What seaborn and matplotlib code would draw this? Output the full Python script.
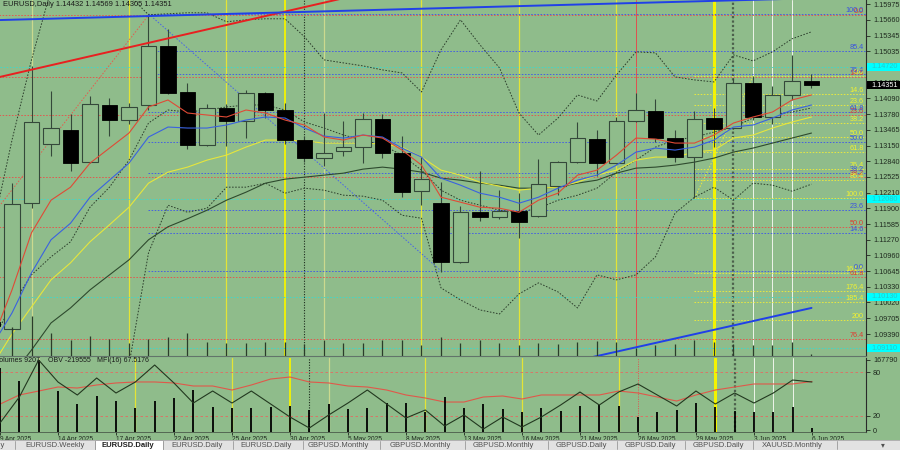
import matplotlib
matplotlib.use("Agg")
import matplotlib.pyplot as plt
import seaborn as sns
import numpy as np
from matplotlib.patches import Rectangle

sns.set_theme(style="white")
plt.rcParams["font.family"] = ["Liberation Sans", "DejaVu Sans"]

# ---------------- data ----------------
dates = ["9 Apr", "10 Apr", "11 Apr", "14 Apr", "15 Apr", "16 Apr", "17 Apr", "18 Apr",
         "21 Apr", "22 Apr", "23 Apr", "24 Apr", "25 Apr", "28 Apr", "29 Apr", "30 Apr",
         "1 May", "2 May", "5 May", "6 May", "7 May", "8 May", "9 May",
         "12 May", "13 May", "14 May", "15 May", "16 May",
         "19 May", "20 May", "21 May", "22 May", "23 May",
         "26 May", "27 May", "28 May", "29 May", "30 May",
         "2 Jun", "3 Jun", "4 Jun", "5 Jun", "6 Jun"]
opens = [1.0962, 1.0949, 1.1200, 1.1318, 1.1346, 1.1282, 1.1396, 1.1366, 1.1396, 1.1514,
         1.1422, 1.1316, 1.1390, 1.1364, 1.1420, 1.1386, 1.1326, 1.1290, 1.1304, 1.1312,
         1.1368, 1.1300, 1.1224, 1.1200, 1.1083, 1.1182, 1.1172, 1.1184, 1.1174, 1.1234,
         1.1282, 1.1328, 1.1280, 1.1364, 1.1384, 1.1330, 1.1292, 1.1370, 1.1350, 1.1440,
         1.1372, 1.1416, 1.14432]
highs = [1.1050, 1.1240, 1.1474, 1.1424, 1.1378, 1.1414, 1.1410, 1.1400, 1.1574, 1.1548,
         1.1440, 1.1398, 1.1398, 1.1426, 1.1422, 1.1400, 1.1334, 1.1380, 1.1364, 1.1380,
         1.1378, 1.1334, 1.1292, 1.1242, 1.1194, 1.1264, 1.1226, 1.1220, 1.1288, 1.1284,
         1.1362, 1.1346, 1.1372, 1.1420, 1.1408, 1.1346, 1.1384, 1.1390, 1.1450, 1.1454,
         1.1434, 1.1496, 1.14569]
lows = [1.0890, 1.0937, 1.1190, 1.1294, 1.1264, 1.1280, 1.1334, 1.1358, 1.1386, 1.1418,
        1.1308, 1.1314, 1.1314, 1.1330, 1.1370, 1.1318, 1.1282, 1.1274, 1.1294, 1.1280,
        1.1290, 1.1212, 1.1196, 1.1063, 1.1081, 1.1164, 1.1168, 1.1130, 1.1172, 1.1216,
        1.1280, 1.1254, 1.1278, 1.1362, 1.1322, 1.1282, 1.1210, 1.1312, 1.1348, 1.1366,
        1.1358, 1.1406, 1.14305]
closes = [1.0955, 1.1198, 1.1362, 1.1350, 1.1280, 1.1398, 1.1366, 1.1392, 1.1514, 1.1420,
          1.1316, 1.1390, 1.1364, 1.1420, 1.1386, 1.1326, 1.1290, 1.1300, 1.1312, 1.1368,
          1.1300, 1.1222, 1.1248, 1.1083, 1.1182, 1.1172, 1.1184, 1.1162, 1.1238, 1.1282,
          1.1330, 1.1280, 1.1364, 1.1386, 1.1330, 1.1292, 1.1368, 1.1348, 1.1440, 1.1372,
          1.1416, 1.1444, 1.14351]

ma_red = [1.0927, 1.1027, 1.1141, 1.1206, 1.1232, 1.1280, 1.1310, 1.1340, 1.1392, 1.1406,
          1.1380, 1.1376, 1.1372, 1.1386, 1.1380, 1.1366, 1.1356, 1.1332, 1.1326, 1.1336,
          1.1330, 1.1306, 1.1276, 1.1212, 1.1202, 1.1192, 1.1190, 1.1182, 1.1206, 1.1220,
          1.1256, 1.1266, 1.1296, 1.1330, 1.1328, 1.1320, 1.1320, 1.1336, 1.1360, 1.1372,
          1.1382, 1.1406, 1.1416]
ma_blue = [1.0917, 1.0981, 1.1061, 1.1127, 1.1160, 1.1212, 1.1246, 1.1280, 1.1332, 1.1352,
           1.1350, 1.1350, 1.1356, 1.1366, 1.1372, 1.1370, 1.1350, 1.1334, 1.1330, 1.1336,
           1.1332, 1.1310, 1.1292, 1.1250, 1.1236, 1.1220, 1.1212, 1.1200, 1.1212, 1.1230,
           1.1246, 1.1256, 1.1276, 1.1302, 1.1310, 1.1306, 1.1312, 1.1326, 1.1352, 1.1356,
           1.1370, 1.1386, 1.1396]
ma_yellow = [1.0877, 1.0939, 1.0993, 1.1047, 1.1081, 1.1123, 1.1157, 1.1192, 1.1240, 1.1262,
             1.1272, 1.1286, 1.1296, 1.1312, 1.1326, 1.1326, 1.1324, 1.1320, 1.1320, 1.1320,
             1.1318, 1.1312, 1.1292, 1.1266, 1.1256, 1.1242, 1.1234, 1.1226, 1.1230, 1.1232,
             1.1242, 1.1256, 1.1266, 1.1286, 1.1292, 1.1292, 1.1302, 1.1306, 1.1330, 1.1336,
             1.1350, 1.1362, 1.1372]
ma_slow = [1.0807, 1.0857, 1.0907, 1.0961, 1.0991, 1.1027, 1.1057, 1.1087, 1.1127, 1.1153,
           1.1169, 1.1186, 1.1206, 1.1222, 1.1240, 1.1248, 1.1252, 1.1256, 1.1260, 1.1268,
           1.1272, 1.1268, 1.1262, 1.1250, 1.1246, 1.1240, 1.1236, 1.1230, 1.1230, 1.1232,
           1.1240, 1.1246, 1.1260, 1.1270, 1.1272, 1.1276, 1.1282, 1.1290, 1.1302, 1.1310,
           1.1320, 1.1330, 1.1340]
band_upper = [1.1146, 1.1326, 1.1486, 1.1626, 1.1685, 1.1705, 1.1695, 1.1615, 1.1576, 1.1578,
              1.1580, 1.1580, 1.1562, 1.1566, 1.1568, 1.1568, 1.1532, 1.1486, 1.1480, 1.1474,
              1.1466, 1.1460, 1.1422, 1.1506, 1.1566, 1.1516, 1.1470, 1.1380, 1.1336, 1.1370,
              1.1416, 1.1404, 1.1456, 1.1502, 1.1500, 1.1452, 1.1446, 1.1442, 1.1496, 1.1484,
              1.1502, 1.1528, 1.1542]
band_lower = [1.0408, 1.0488, 1.0568, 1.0648, 1.0708, 1.0768, 1.0807, 1.0877, 1.1101, 1.1196,
              1.1182, 1.1190, 1.1232, 1.1232, 1.1240, 1.1220, 1.1230, 1.1226, 1.1216, 1.1214,
              1.1206, 1.1176, 1.1170, 1.1031, 1.1007, 1.0987, 1.0979, 1.1019, 1.1041, 1.1023,
              1.0991, 1.1057, 1.1047, 1.1057, 1.1093, 1.1180, 1.1212, 1.1232, 1.1206, 1.1240,
              1.1236, 1.1224, 1.1238]
band_mid = [1.0927, 1.0997, 1.1057, 1.1093, 1.1123, 1.1192, 1.1232, 1.1286, 1.1360, 1.1386,
            1.1382, 1.1386, 1.1392, 1.1396, 1.1396, 1.1386, 1.1362, 1.1350, 1.1336, 1.1326,
            1.1316, 1.1296, 1.1266, 1.1226, 1.1206, 1.1196, 1.1186, 1.1182, 1.1190, 1.1206,
            1.1216, 1.1230, 1.1262, 1.1286, 1.1312, 1.1326, 1.1332, 1.1342, 1.1352, 1.1370,
            1.1376, 1.1382, 1.1390]

volumes = [150000, 119600, 167790, 95500, 65300, 83900, 72200, 55900, 72200, 79200,
           97900, 58300, 55900, 55900, 58300, 60600, 51300, 65300, 53600, 55900,
           67600, 67600, 46600, 81600, 55900, 65300, 53600, 46600, 55900, 48900,
           60600, 62900, 60600, 35000, 46600, 51300, 67600, 58300, 48900, 46600,
           46600, 58300, 9207]
obv = [-404100, -287100, -120600, -219600, -278100, -201600, -269100, -219600, -143100, -224100,
       -314100, -260100, -314100, -260100, -318600, -377100, -426600, -368100, -314100, -255600,
       -318600, -381600, -345600, -417600, -368100, -431100, -377100, -422100, -377100, -323100,
       -264600, -323100, -264600, -228600, -278100, -327600, -260100, -318600, -269100, -314100,
       -269100, -210600, -219555]
mfi = [36.0, 48.7, 54.2, 59.8, 58.4, 62.6, 65.4, 66.8, 66.8, 65.4, 61.2, 61.2, 55.6, 62.6,
       70.9, 73.7, 66.8, 65.4, 61.2, 59.8, 55.6, 48.7, 44.5, 38.9, 38.9, 45.9, 47.3, 43.1,
       48.7, 48.7, 48.7, 48.7, 54.2, 51.5, 45.9, 40.3, 48.7, 55.6, 59.8, 64.0, 64.0, 64.0,
       67.5176]
vol_scale_max = 167790

price_ticks = [1.15975, 1.15660, 1.15345, 1.15035, 1.14720, 1.14405, 1.14090, 1.13780,
               1.13465, 1.13150, 1.12840, 1.12525, 1.12210, 1.11900, 1.11585, 1.11270,
               1.10960, 1.10645, 1.10330, 1.10020, 1.09705, 1.09390]
mfi_ticks = [80, 20, 0]

# Fibonacci objects (anchors)
blue_fib_levels = [0.0, 14.6, 23.6, 38.2, 50.0, 61.8, 76.4, 85.4, 100.0]
blue_fib_low, blue_fib_high, blue_fib_start = 1.1065, 1.1578, 8
red_fib_levels = [0.0, 14.6, 23.6, 38.2, 50.0, 61.8, 76.4, 100.0]
red_fib_top, red_fib_bottom, red_fib_start = 1.1575, 1.0729, -9
yel_fib_levels = [0.0, 14.6, 23.6, 38.2, 50.0, 61.8, 76.4, 85.4, 100.0, 161.8, 176.4, 185.4, 200.0]
yel_fib_top, yel_fib_bottom, yel_fib_start = 1.1453, 1.1210, 36
pivot_levels = [1.1472, 1.1208, 1.1013, 1.0911]

# trend lines: (index, price) pairs
red_trend = [(-5, 1.1404), (20, 1.1627)]
blue_trend_top = [(-2, 1.1563), (42, 1.1609)]
blue_trend_low = [(20, 1.0799), (42, 1.0991)]
red_fib_diag = [(-9, 1.0729), (8, 1.1575)]
blue_fib_diag = [(8, 1.1578), (23, 1.1065)]
yel_fib_diag = [(36, 1.1210), (39, 1.1453)]

# period separators (bar index, style)
sep_idx = [2, 7, 12, 15, 16, 17, 22, 27, 32, 33, 37, 38, 39, 40, 41]
sep_kind = ["pale", "fri", "fri", "month", "mstart", "pale", "fri", "fri", "fri", "red",
            "week", "wstart", "day", "day", "day"]

tab_labels = ["ily", "EURUSD.Weekly", "EURUSD.Daily", "EURUSD.Daily", "EURUSD.Daily",
              "GBPUSD.Monthly", "GBPUSD.Monthly", "GBPUSD.Monthly", "GBPUSD.Daily",
              "GBPUSD.Daily", "GBPUSD.Daily", "XAUUSD.Monthly"]
active_tab = 2

# ---------------- style / layout ----------------
BG = "#8fbc8b"
DARK = "#1f2a1f"
WICK = "#34483a"
W, H = 900, 450
tab_text_x = [-2, 25, 102, 171, 240, 308, 390, 473, 556, 625, 693, 762]
tab_seps = [15, 95, 163, 233, 303, 380, 465, 548, 617, 685, 753, 837]

sep_style = {
    "fri": dict(color="#e4e436", lw=0.9, ls="-"),
    "pale": dict(color="#cbd98e", lw=0.9, ls="-"),
    "month": dict(color="#f4f400", lw=1.3, ls="-"),
    "mstart": dict(color="#1c2a1c", lw=0.8, ls=(0, (1, 1.4))),
    "red": dict(color="#e05050", lw=0.7, ls="-"),
    "week": dict(color="#f4f400", lw=2.2, ls="-"),
    "wstart": dict(color="#4c604c", lw=1.6, ls=(0, (1, 1))),
    "day": dict(color="#eef4ea", lw=0.7, ls="-"),
}

n = len(dates)
idx = np.arange(n)
o = np.array(opens); h = np.array(highs); l = np.array(lows); c = np.array(closes)
X0, X1 = 0.3846, 44.795
Y0, Y1 = 1.08951, 1.16055

fig = plt.figure(figsize=(9, 4.5), dpi=100)
fig.patch.set_facecolor(BG)

# ---------- main price panel ----------
ax = fig.add_axes([0, 94 / H, 866 / W, 356 / H])
ax.set_facecolor(BG)
axmv = ax.twinx()

for i, k in zip(sep_idx, sep_kind):
    ax.axvline(i, zorder=1, **sep_style[k])

DOT = (0, (1.6, 1.6))
for lv in red_fib_levels:
    p = red_fib_top - lv / 100 * (red_fib_top - red_fib_bottom)
    ax.hlines(p, red_fib_start, 60, color="#e05a50", lw=0.7, ls=DOT, zorder=2)
for lv in yel_fib_levels:
    p = yel_fib_top - lv / 100 * (yel_fib_top - yel_fib_bottom)
    ax.hlines(p, yel_fib_start, 60, color="#e8e840", lw=0.7, ls=DOT, zorder=2)
for lv in blue_fib_levels:
    p = blue_fib_low + lv / 100 * (blue_fib_high - blue_fib_low)
    ax.hlines(p, blue_fib_start, 60, color="#4660e0", lw=0.7, ls=DOT, zorder=2)
for p in pivot_levels:
    ax.axhline(p, color="#46d6c6", lw=0.7, ls=DOT, zorder=2)

for seg, col in [(red_fib_diag, "#e06050"), (blue_fib_diag, "#4a66e6"), (yel_fib_diag, "#e8e840")]:
    ax.plot([seg[0][0], seg[1][0]], [seg[0][1], seg[1][1]], color=col, lw=0.7, ls=DOT, zorder=2)

# moving averages and bands
sns.lineplot(x=idx, y=band_upper, ax=ax, color="#2c3e2c", lw=0.7, ls=DOT, zorder=3)
sns.lineplot(x=idx, y=band_lower, ax=ax, color="#2c3e2c", lw=0.7, ls=DOT, zorder=3)
sns.lineplot(x=idx, y=band_mid, ax=ax, color="#2c3e2c", lw=0.7, ls=DOT, zorder=3)
sns.lineplot(x=idx, y=ma_slow, ax=ax, color="#2e4a2e", lw=0.8, zorder=3)
sns.lineplot(x=idx, y=ma_yellow, ax=ax, color="#e6e63c", lw=0.8, zorder=3)

# candles
bull = c >= o
ax.vlines(idx, l, h, color=WICK, lw=0.8, zorder=4)
ax.bar(idx[bull], (c - o)[bull], bottom=o[bull], width=0.77, facecolor=BG,
       edgecolor=WICK, lw=0.8, zorder=5)
ax.bar(idx[~bull], (o - c)[~bull], bottom=c[~bull], width=0.77, facecolor="black",
       edgecolor="black", lw=0.6, zorder=5)

sns.lineplot(x=idx, y=ma_blue, ax=ax, color="#3a62e0", lw=0.8, zorder=6)
sns.lineplot(x=idx, y=ma_red, ax=ax, color="#e04a36", lw=0.8, zorder=6)

for seg, col in [(red_trend, "#e82020"), (blue_trend_top, "#2040e8"), (blue_trend_low, "#2040e8")]:
    ax.plot([seg[0][0], seg[1][0]], [seg[0][1], seg[1][1]], color=col, lw=1.4, zorder=7)

# fib labels
ytr = ax.get_yaxis_transform()
LX = 864 / 866
for lv in red_fib_levels:
    p = red_fib_top - lv / 100 * (red_fib_top - red_fib_bottom)
    ax.text(LX, p, f"{lv:.1f}", transform=ytr, ha="right", va="bottom", fontsize=5.2,
            color="#e03a30", zorder=8, clip_on=True)
for lv in yel_fib_levels:
    p = yel_fib_top - lv / 100 * (yel_fib_top - yel_fib_bottom)
    lab = f"{lv:.0f}" if lv == 200 else f"{lv:.1f}"
    ax.text(LX, p, lab, transform=ytr, ha="right", va="bottom", fontsize=5.2,
            color="#f2f230", zorder=8, clip_on=True)
for lv in blue_fib_levels:
    p = blue_fib_low + lv / 100 * (blue_fib_high - blue_fib_low)
    ax.text(LX, p, f"{lv:.1f}", transform=ytr, ha="right", va="bottom", fontsize=5.2,
            color="#3a52e0", zorder=8, clip_on=True)

axmv.set_ylim(0, vol_scale_max * 356 / 40)
axmv.vlines(idx, 0, volumes, color="#2a3c2a", lw=0.9)
axmv.set_yticks([])
for s in axmv.spines.values():
    s.set_visible(False)

ax.set_xlim(X0, X1)
ax.set_ylim(Y0, Y1)
ax.set_xlabel(""); ax.set_ylabel("")
ax.set_xticks([])
ax.yaxis.tick_right()
ax.set_yticks(price_ticks)
ax.set_yticklabels([f"{p:.5f}" for p in price_ticks])
ax.tick_params(axis="y", right=True, left=False, length=3, width=0.6, colors=DARK,
               labelsize=5.2, pad=2)
for k in ["left", "top"]:
    ax.spines[k].set_visible(False)
ax.spines["right"].set_color("#2a2a2a"); ax.spines["right"].set_linewidth(0.8)
ax.spines["bottom"].set_color("#62746a"); ax.spines["bottom"].set_linewidth(0.8)

# price badges on the axis
bh = 0.0016
for p in pivot_levels:
    ax.add_patch(Rectangle((1.0015, p - bh / 2), 0.04, bh, transform=ytr, facecolor="#00ffff",
                           edgecolor="none", clip_on=False, zorder=10))
    ax.text(1.006, p, f"{p:.5f}", transform=ytr, ha="left", va="center", fontsize=5.2,
            color="#28c8c8", zorder=11, clip_on=False)
last = closes[-1]
ax.add_patch(Rectangle((1.0015, last - bh / 2), 0.04, bh, transform=ytr, facecolor="black",
                       edgecolor="none", clip_on=False, zorder=10))
ax.text(1.006, last, f"{last:.5f}", transform=ytr, ha="left", va="center", fontsize=5.2,
        color="white", zorder=11, clip_on=False)

fig.text(3 / W, 1 - 0.5 / H, f"EURUSD,Daily {opens[-1]:.5f} {highs[-1]:.5f} {lows[-1]:.5f} {closes[-1]:.5f}",
         ha="left", va="top", fontsize=5.4, color="#1a1a1a")

# ---------- indicator panel ----------
axi = fig.add_axes([0, 18 / H, 866 / W, 74 / H])
axi.set_facecolor(BG)
axv = axi.twinx()
axo = axi.twinx()
for i, k in zip(sep_idx, sep_kind):
    st = dict(sep_style[k])
    if k == "red":
        st["ls"] = (0, (1, 1.4))
    axi.axvline(i, zorder=1, **st)
for lv in [80, 20]:
    axi.axhline(lv, color="#e46a62", lw=0.6, ls=(0, (3, 3)), zorder=2)
sns.lineplot(x=idx, y=mfi, ax=axi, color="#e0584a", lw=0.8, zorder=3)
axv.vlines(idx, 0, volumes, color="black", lw=1.3)
sns.lineplot(x=idx, y=obv, ax=axo, color="#22381f", lw=0.8)

axi.set_ylim(-2.78, 100.14)
axv.set_ylim(0, 172450)
axo.set_ylim(-444555, -111555)
for a in (axi, axv, axo):
    a.set_xlim(X0, X1)
    a.set_xlabel(""); a.set_ylabel("")
axi.yaxis.tick_right()
axi.set_yticks(mfi_ticks)
axi.set_yticklabels([str(t) for t in mfi_ticks])
axv.set_yticks([vol_scale_max])
axv.set_yticklabels([str(vol_scale_max)])
axo.set_yticks([])
for a in (axi, axv):
    a.tick_params(axis="y", right=True, left=False, length=3, width=0.6, colors=DARK,
                  labelsize=5.2, pad=2)
for a in (axv, axo):
    for s in a.spines.values():
        s.set_visible(False)
for k in ["left", "top"]:
    axi.spines[k].set_visible(False)
axi.spines["right"].set_color("#2a2a2a"); axi.spines["right"].set_linewidth(0.8)
axi.spines["bottom"].set_color("#4a5a4a"); axi.spines["bottom"].set_linewidth(0.6)
axi.set_xticks(idx[::3])
axi.set_xticklabels([d + " 2025" for d in dates[::3]], ha="left")
axi.tick_params(axis="x", bottom=True, length=2, width=0.6, colors=DARK, labelsize=4.7, pad=1)

fig.text(-5 / W, 1 - 357.5 / H, f"Volumes {volumes[-1]}", ha="left", va="top", fontsize=5.0, color="#1a1a1a")
fig.text(48 / W, 1 - 357.5 / H, f"OBV {obv[-1]}", ha="left", va="top", fontsize=5.0, color="#1a1a1a")
fig.text(97 / W, 1 - 357.5 / H, f"MFI(16) {mfi[-1]:.4f}", ha="left", va="top", fontsize=5.0, color="#1a1a1a")

# ---------- tab bar ----------
axt = fig.add_axes([0, 0, 1, 10 / H])
axt.set_xlim(0, W); axt.set_ylim(0, 10)
axt.axis("off")
axt.add_patch(Rectangle((0, 0), W, 10, facecolor="#e2e2e2", edgecolor="none"))
axt.plot([0, W], [9.7, 9.7], color="#a8a8a8", lw=0.6)
axt.add_patch(Rectangle((tab_seps[active_tab - 1], 0), tab_seps[active_tab] - tab_seps[active_tab - 1], 10,
                        facecolor="white", edgecolor="#9a9a9a", lw=0.5))
for xs in tab_seps:
    axt.plot([xs, xs], [1, 9], color="#9a9a9a", lw=0.6)
for i, (tx, lab) in enumerate(zip(tab_text_x, tab_labels)):
    axt.text(tx, 4.6, lab, ha="left", va="center", fontsize=5.5,
             color="#202020" if i == active_tab else "#505050",
             fontweight="bold" if i == active_tab else "normal")
axt.text(883, 4.6, "▾", ha="center", va="center", fontsize=5.5, color="#505050")

fig.savefig("out.png", dpi=100, facecolor=BG)
